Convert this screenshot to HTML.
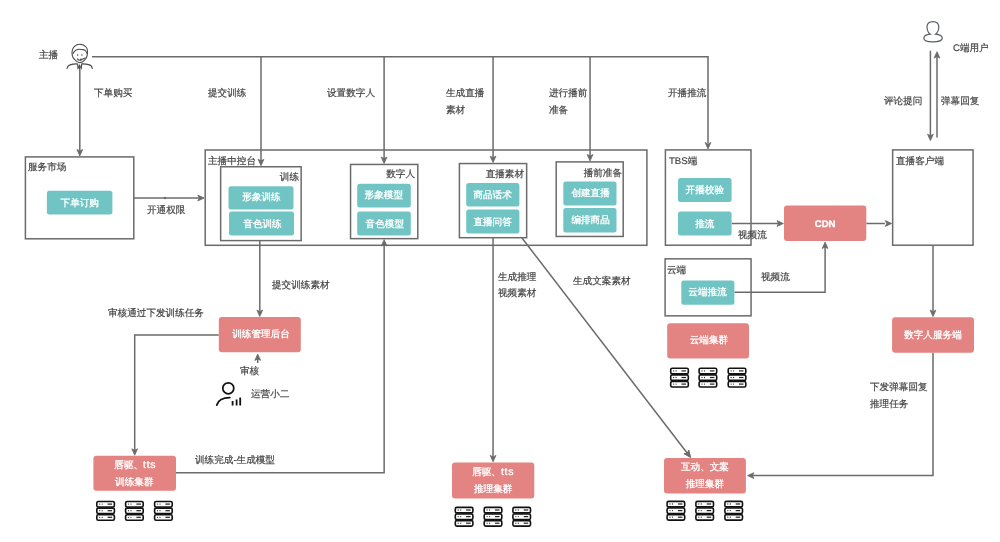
<!DOCTYPE html>
<html><head><meta charset="utf-8">
<style>
html,body{margin:0;padding:0;background:#fff;}
body{width:1000px;height:542px;position:relative;overflow:hidden;font-family:"Liberation Sans",sans-serif;}
svg{position:absolute;left:0;top:0;}
.t,.w{position:absolute;font-size:9.6px;line-height:10px;white-space:nowrap;text-rendering:geometricPrecision;}
.t{color:#444;-webkit-text-stroke:0.2px #444;will-change:transform;}
.w{color:#fff;-webkit-text-stroke:0.3px #fff;will-change:transform;}
.b{font-weight:bold;}
</style></head><body>
<svg width="1000" height="542" viewBox="0 0 1000 542">
<rect x="25.4" y="156.9" width="108.40" height="81.90" fill="#fff" stroke="#6b6b6b" stroke-width="1.5"/>
<rect x="205.2" y="150" width="441.70" height="95.30" fill="#fff" stroke="#6b6b6b" stroke-width="1.5"/>
<rect x="220.65" y="166.75" width="80.50" height="73.85" fill="#fff" stroke="#6b6b6b" stroke-width="1.5"/>
<rect x="350.55" y="164.45" width="67.25" height="74.20" fill="#fff" stroke="#6b6b6b" stroke-width="1.5"/>
<rect x="459.4" y="163.55" width="67.25" height="74.15" fill="#fff" stroke="#6b6b6b" stroke-width="1.5"/>
<rect x="556.2" y="161.9" width="67.00" height="74.55" fill="#fff" stroke="#6b6b6b" stroke-width="1.5"/>
<rect x="665.4" y="149.9" width="85.60" height="95.30" fill="#fff" stroke="#6b6b6b" stroke-width="1.5"/>
<rect x="892.65" y="149.9" width="80.40" height="95.30" fill="#fff" stroke="#6b6b6b" stroke-width="1.5"/>
<rect x="665.1" y="258.85" width="85.95" height="57.00" fill="#fff" stroke="#6b6b6b" stroke-width="1.5"/>
<path d="M92,56.7 H708 V143" fill="none" stroke="#6b6b6b" stroke-width="1.5"/>
<path d="M708,148.9 L705.1,142.5 L708,144.0 L710.9,142.5 Z" fill="#6b6b6b" stroke="#6b6b6b" stroke-width="0.8" stroke-linejoin="round"/>
<path d="M261,56.7 V161.75" fill="none" stroke="#6b6b6b" stroke-width="1.5"/>
<path d="M261,165.75 L258.1,159.35 L261,160.85 L263.9,159.35 Z" fill="#6b6b6b" stroke="#6b6b6b" stroke-width="0.8" stroke-linejoin="round"/>
<path d="M384.1,56.7 V159.45" fill="none" stroke="#6b6b6b" stroke-width="1.5"/>
<path d="M384.1,163.45 L381.20000000000005,157.04999999999998 L384.1,158.54999999999998 L387.0,157.04999999999998 Z" fill="#6b6b6b" stroke="#6b6b6b" stroke-width="0.8" stroke-linejoin="round"/>
<path d="M493.05,56.7 V158.55" fill="none" stroke="#6b6b6b" stroke-width="1.5"/>
<path d="M493.05,162.55 L490.15000000000003,156.15 L493.05,157.65 L495.95,156.15 Z" fill="#6b6b6b" stroke="#6b6b6b" stroke-width="0.8" stroke-linejoin="round"/>
<path d="M590.05,56.7 V156.9" fill="none" stroke="#6b6b6b" stroke-width="1.5"/>
<path d="M590.05,160.9 L587.15,154.5 L590.05,156.0 L592.9499999999999,154.5 Z" fill="#6b6b6b" stroke="#6b6b6b" stroke-width="0.8" stroke-linejoin="round"/>
<path d="M79.8,69 V151" fill="none" stroke="#6b6b6b" stroke-width="1.5"/>
<path d="M79.8,155.9 L76.89999999999999,149.5 L79.8,151.0 L82.7,149.5 Z" fill="#6b6b6b" stroke="#6b6b6b" stroke-width="0.8" stroke-linejoin="round"/>
<path d="M133.8,198 H199" fill="none" stroke="#6b6b6b" stroke-width="1.5"/>
<path d="M204.2,198 L197.79999999999998,195.1 L199.29999999999998,198 L197.79999999999998,200.9 Z" fill="#6b6b6b" stroke="#6b6b6b" stroke-width="0.8" stroke-linejoin="round"/>
<path d="M259.8,240.6 V311" fill="none" stroke="#6b6b6b" stroke-width="1.5"/>
<path d="M259.8,316.5 L256.90000000000003,310.1 L259.8,311.6 L262.7,310.1 Z" fill="#6b6b6b" stroke="#6b6b6b" stroke-width="0.8" stroke-linejoin="round"/>
<path d="M218.8,335 H134.7 V450" fill="none" stroke="#6b6b6b" stroke-width="1.5"/>
<path d="M134.7,455.2 L131.79999999999998,448.8 L134.7,450.3 L137.6,448.8 Z" fill="#6b6b6b" stroke="#6b6b6b" stroke-width="0.8" stroke-linejoin="round"/>
<path d="M257.7,363 V358" fill="none" stroke="#6b6b6b" stroke-width="1.5"/>
<path d="M257.7,354.0 L254.79999999999998,360.4 L257.7,358.9 L260.59999999999997,360.4 Z" fill="#6b6b6b" stroke="#6b6b6b" stroke-width="0.8" stroke-linejoin="round"/>
<path d="M176,472.8 H384.15 V244" fill="none" stroke="#6b6b6b" stroke-width="1.5"/>
<path d="M384.15,239.65 L381.25,246.05 L384.15,244.55 L387.04999999999995,246.05 Z" fill="#6b6b6b" stroke="#6b6b6b" stroke-width="0.8" stroke-linejoin="round"/>
<path d="M493.05,237.7 V457" fill="none" stroke="#6b6b6b" stroke-width="1.5"/>
<path d="M493.05,461.8 L490.15000000000003,455.40000000000003 L493.05,456.90000000000003 L495.95,455.40000000000003 Z" fill="#6b6b6b" stroke="#6b6b6b" stroke-width="0.8" stroke-linejoin="round"/>
<path d="M522,238 L687.5,453.5" fill="none" stroke="#6b6b6b" stroke-width="1.5"/>
<path d="M731.6,223.5 H779" fill="none" stroke="#6b6b6b" stroke-width="1.5"/>
<path d="M783.4,223.5 L777.0,220.6 L778.5,223.5 L777.0,226.4 Z" fill="#6b6b6b" stroke="#6b6b6b" stroke-width="0.8" stroke-linejoin="round"/>
<path d="M866.3,223.5 H885" fill="none" stroke="#6b6b6b" stroke-width="1.5"/>
<path d="M891.65,223.5 L885.25,220.6 L886.75,223.5 L885.25,226.4 Z" fill="#6b6b6b" stroke="#6b6b6b" stroke-width="0.8" stroke-linejoin="round"/>
<path d="M734.4,292.3 H825.1 V246" fill="none" stroke="#6b6b6b" stroke-width="1.5"/>
<path d="M825.1,242.1 L822.2,248.5 L825.1,247.0 L828.0,248.5 Z" fill="#6b6b6b" stroke="#6b6b6b" stroke-width="0.8" stroke-linejoin="round"/>
<path d="M933,245.2 V311" fill="none" stroke="#6b6b6b" stroke-width="1.5"/>
<path d="M933,316.5 L930.1,310.1 L933,311.6 L935.9,310.1 Z" fill="#6b6b6b" stroke="#6b6b6b" stroke-width="0.8" stroke-linejoin="round"/>
<path d="M933,352.7 V475.6 H751" fill="none" stroke="#6b6b6b" stroke-width="1.5"/>
<path d="M747.5,475.6 L753.9,472.70000000000005 L752.4,475.6 L753.9,478.5 Z" fill="#6b6b6b" stroke="#6b6b6b" stroke-width="0.8" stroke-linejoin="round"/>
<path d="M930.4,50.7 V136" fill="none" stroke="#6b6b6b" stroke-width="1.5"/>
<path d="M930.4,140.6 L927.5,134.2 L930.4,135.7 L933.3,134.2 Z" fill="#6b6b6b" stroke="#6b6b6b" stroke-width="0.8" stroke-linejoin="round"/>
<path d="M937,137.4 V56" fill="none" stroke="#6b6b6b" stroke-width="1.5"/>
<path d="M937,51.7 L934.1,58.1 L937,56.6 L939.9,58.1 Z" fill="#6b6b6b" stroke="#6b6b6b" stroke-width="0.8" stroke-linejoin="round"/>
<path d="M690.70,457.50 L688.81,450.12 L687.35,453.14 L684.06,453.78 Z" fill="#6b6b6b" stroke="#6b6b6b" stroke-width="1"/>
<rect x="46.9" y="190.7" width="65.50" height="23.90" rx="2.5" fill="#70c5c4"/>
<rect x="228.5" y="186.3" width="65.00" height="23.10" rx="2.5" fill="#70c5c4"/>
<rect x="229" y="211.5" width="65.00" height="23.90" rx="2.5" fill="#70c5c4"/>
<rect x="357.2" y="183.7" width="53.60" height="23.70" rx="2.5" fill="#70c5c4"/>
<rect x="357.2" y="211.5" width="53.60" height="23.90" rx="2.5" fill="#70c5c4"/>
<rect x="466.2" y="183" width="53.20" height="23.60" rx="2.5" fill="#70c5c4"/>
<rect x="466.2" y="209.4" width="53.20" height="24.00" rx="2.5" fill="#70c5c4"/>
<rect x="563.3" y="181.6" width="53.20" height="23.80" rx="2.5" fill="#70c5c4"/>
<rect x="563.3" y="208" width="53.20" height="24.40" rx="2.5" fill="#70c5c4"/>
<rect x="678" y="178" width="53.60" height="24.00" rx="2.5" fill="#70c5c4"/>
<rect x="678" y="211.5" width="53.60" height="23.90" rx="2.5" fill="#70c5c4"/>
<rect x="681.3" y="280.4" width="53.10" height="24.40" rx="2.5" fill="#70c5c4"/>
<rect x="784" y="205.6" width="82.30" height="35.50" rx="3" fill="#e48482"/>
<rect x="218.8" y="317" width="82.00" height="35.20" rx="3" fill="#e48482"/>
<rect x="93.4" y="455.8" width="82.60" height="35.00" rx="3" fill="#e48482"/>
<rect x="452" y="462.4" width="82.30" height="36.00" rx="3" fill="#e48482"/>
<rect x="667.2" y="323.3" width="81.80" height="35.10" rx="3" fill="#e48482"/>
<rect x="892.1" y="317.3" width="81.90" height="35.40" rx="3" fill="#e48482"/>
<rect x="664" y="458" width="81.90" height="35.40" rx="3" fill="#e48482"/>
<rect x="96.8" y="501.5" width="17.6" height="5.499999999999999" rx="1.5" fill="#fff" stroke="#111" stroke-width="1.6"/>
<circle cx="99.69999999999999" cy="504.1" r="0.65" fill="#333"/><circle cx="102.19999999999999" cy="504.1" r="0.65" fill="#333"/>
<path d="M107.6,504.1 H112.1" stroke="#222" stroke-width="1.2"/>
<rect x="96.8" y="508.1" width="17.6" height="5.499999999999999" rx="1.5" fill="#fff" stroke="#111" stroke-width="1.6"/>
<circle cx="99.69999999999999" cy="510.70000000000005" r="0.65" fill="#333"/><circle cx="102.19999999999999" cy="510.70000000000005" r="0.65" fill="#333"/>
<path d="M107.6,510.70000000000005 H112.1" stroke="#222" stroke-width="1.2"/>
<rect x="96.8" y="514.7" width="17.6" height="5.499999999999999" rx="1.5" fill="#fff" stroke="#111" stroke-width="1.6"/>
<circle cx="99.69999999999999" cy="517.3" r="0.65" fill="#333"/><circle cx="102.19999999999999" cy="517.3" r="0.65" fill="#333"/>
<path d="M107.6,517.3 H112.1" stroke="#222" stroke-width="1.2"/>
<rect x="125.60000000000001" y="501.5" width="17.6" height="5.499999999999999" rx="1.5" fill="#fff" stroke="#111" stroke-width="1.6"/>
<circle cx="128.5" cy="504.1" r="0.65" fill="#333"/><circle cx="131.0" cy="504.1" r="0.65" fill="#333"/>
<path d="M136.4,504.1 H140.9" stroke="#222" stroke-width="1.2"/>
<rect x="125.60000000000001" y="508.1" width="17.6" height="5.499999999999999" rx="1.5" fill="#fff" stroke="#111" stroke-width="1.6"/>
<circle cx="128.5" cy="510.70000000000005" r="0.65" fill="#333"/><circle cx="131.0" cy="510.70000000000005" r="0.65" fill="#333"/>
<path d="M136.4,510.70000000000005 H140.9" stroke="#222" stroke-width="1.2"/>
<rect x="125.60000000000001" y="514.7" width="17.6" height="5.499999999999999" rx="1.5" fill="#fff" stroke="#111" stroke-width="1.6"/>
<circle cx="128.5" cy="517.3" r="0.65" fill="#333"/><circle cx="131.0" cy="517.3" r="0.65" fill="#333"/>
<path d="M136.4,517.3 H140.9" stroke="#222" stroke-width="1.2"/>
<rect x="154.6" y="501.5" width="17.6" height="5.499999999999999" rx="1.5" fill="#fff" stroke="#111" stroke-width="1.6"/>
<circle cx="157.5" cy="504.1" r="0.65" fill="#333"/><circle cx="160.0" cy="504.1" r="0.65" fill="#333"/>
<path d="M165.4,504.1 H169.9" stroke="#222" stroke-width="1.2"/>
<rect x="154.6" y="508.1" width="17.6" height="5.499999999999999" rx="1.5" fill="#fff" stroke="#111" stroke-width="1.6"/>
<circle cx="157.5" cy="510.70000000000005" r="0.65" fill="#333"/><circle cx="160.0" cy="510.70000000000005" r="0.65" fill="#333"/>
<path d="M165.4,510.70000000000005 H169.9" stroke="#222" stroke-width="1.2"/>
<rect x="154.6" y="514.7" width="17.6" height="5.499999999999999" rx="1.5" fill="#fff" stroke="#111" stroke-width="1.6"/>
<circle cx="157.5" cy="517.3" r="0.65" fill="#333"/><circle cx="160.0" cy="517.3" r="0.65" fill="#333"/>
<path d="M165.4,517.3 H169.9" stroke="#222" stroke-width="1.2"/>
<rect x="455.3" y="507.4" width="17.6" height="5.499999999999999" rx="1.5" fill="#fff" stroke="#111" stroke-width="1.6"/>
<circle cx="458.20000000000005" cy="510.0" r="0.65" fill="#333"/><circle cx="460.70000000000005" cy="510.0" r="0.65" fill="#333"/>
<path d="M466.1,510.0 H470.6" stroke="#222" stroke-width="1.2"/>
<rect x="455.3" y="514.0" width="17.6" height="5.499999999999999" rx="1.5" fill="#fff" stroke="#111" stroke-width="1.6"/>
<circle cx="458.20000000000005" cy="516.5999999999999" r="0.65" fill="#333"/><circle cx="460.70000000000005" cy="516.5999999999999" r="0.65" fill="#333"/>
<path d="M466.1,516.5999999999999 H470.6" stroke="#222" stroke-width="1.2"/>
<rect x="455.3" y="520.6" width="17.6" height="5.499999999999999" rx="1.5" fill="#fff" stroke="#111" stroke-width="1.6"/>
<circle cx="458.20000000000005" cy="523.1999999999999" r="0.65" fill="#333"/><circle cx="460.70000000000005" cy="523.1999999999999" r="0.65" fill="#333"/>
<path d="M466.1,523.1999999999999 H470.6" stroke="#222" stroke-width="1.2"/>
<rect x="484.2" y="507.4" width="17.6" height="5.499999999999999" rx="1.5" fill="#fff" stroke="#111" stroke-width="1.6"/>
<circle cx="487.1" cy="510.0" r="0.65" fill="#333"/><circle cx="489.6" cy="510.0" r="0.65" fill="#333"/>
<path d="M495.0,510.0 H499.5" stroke="#222" stroke-width="1.2"/>
<rect x="484.2" y="514.0" width="17.6" height="5.499999999999999" rx="1.5" fill="#fff" stroke="#111" stroke-width="1.6"/>
<circle cx="487.1" cy="516.5999999999999" r="0.65" fill="#333"/><circle cx="489.6" cy="516.5999999999999" r="0.65" fill="#333"/>
<path d="M495.0,516.5999999999999 H499.5" stroke="#222" stroke-width="1.2"/>
<rect x="484.2" y="520.6" width="17.6" height="5.499999999999999" rx="1.5" fill="#fff" stroke="#111" stroke-width="1.6"/>
<circle cx="487.1" cy="523.1999999999999" r="0.65" fill="#333"/><circle cx="489.6" cy="523.1999999999999" r="0.65" fill="#333"/>
<path d="M495.0,523.1999999999999 H499.5" stroke="#222" stroke-width="1.2"/>
<rect x="512.9000000000001" y="507.4" width="17.6" height="5.499999999999999" rx="1.5" fill="#fff" stroke="#111" stroke-width="1.6"/>
<circle cx="515.8000000000001" cy="510.0" r="0.65" fill="#333"/><circle cx="518.3000000000001" cy="510.0" r="0.65" fill="#333"/>
<path d="M523.7,510.0 H528.2" stroke="#222" stroke-width="1.2"/>
<rect x="512.9000000000001" y="514.0" width="17.6" height="5.499999999999999" rx="1.5" fill="#fff" stroke="#111" stroke-width="1.6"/>
<circle cx="515.8000000000001" cy="516.5999999999999" r="0.65" fill="#333"/><circle cx="518.3000000000001" cy="516.5999999999999" r="0.65" fill="#333"/>
<path d="M523.7,516.5999999999999 H528.2" stroke="#222" stroke-width="1.2"/>
<rect x="512.9000000000001" y="520.6" width="17.6" height="5.499999999999999" rx="1.5" fill="#fff" stroke="#111" stroke-width="1.6"/>
<circle cx="515.8000000000001" cy="523.1999999999999" r="0.65" fill="#333"/><circle cx="518.3000000000001" cy="523.1999999999999" r="0.65" fill="#333"/>
<path d="M523.7,523.1999999999999 H528.2" stroke="#222" stroke-width="1.2"/>
<rect x="670.7" y="368.3" width="17.6" height="5.499999999999999" rx="1.5" fill="#fff" stroke="#111" stroke-width="1.6"/>
<circle cx="673.6" cy="370.90000000000003" r="0.65" fill="#333"/><circle cx="676.1" cy="370.90000000000003" r="0.65" fill="#333"/>
<path d="M681.5,370.90000000000003 H686" stroke="#222" stroke-width="1.2"/>
<rect x="670.7" y="374.90000000000003" width="17.6" height="5.499999999999999" rx="1.5" fill="#fff" stroke="#111" stroke-width="1.6"/>
<circle cx="673.6" cy="377.50000000000006" r="0.65" fill="#333"/><circle cx="676.1" cy="377.50000000000006" r="0.65" fill="#333"/>
<path d="M681.5,377.50000000000006 H686" stroke="#222" stroke-width="1.2"/>
<rect x="670.7" y="381.5" width="17.6" height="5.499999999999999" rx="1.5" fill="#fff" stroke="#111" stroke-width="1.6"/>
<circle cx="673.6" cy="384.1" r="0.65" fill="#333"/><circle cx="676.1" cy="384.1" r="0.65" fill="#333"/>
<path d="M681.5,384.1 H686" stroke="#222" stroke-width="1.2"/>
<rect x="699.1" y="368.3" width="17.6" height="5.499999999999999" rx="1.5" fill="#fff" stroke="#111" stroke-width="1.6"/>
<circle cx="702.0" cy="370.90000000000003" r="0.65" fill="#333"/><circle cx="704.5" cy="370.90000000000003" r="0.65" fill="#333"/>
<path d="M709.9,370.90000000000003 H714.4" stroke="#222" stroke-width="1.2"/>
<rect x="699.1" y="374.90000000000003" width="17.6" height="5.499999999999999" rx="1.5" fill="#fff" stroke="#111" stroke-width="1.6"/>
<circle cx="702.0" cy="377.50000000000006" r="0.65" fill="#333"/><circle cx="704.5" cy="377.50000000000006" r="0.65" fill="#333"/>
<path d="M709.9,377.50000000000006 H714.4" stroke="#222" stroke-width="1.2"/>
<rect x="699.1" y="381.5" width="17.6" height="5.499999999999999" rx="1.5" fill="#fff" stroke="#111" stroke-width="1.6"/>
<circle cx="702.0" cy="384.1" r="0.65" fill="#333"/><circle cx="704.5" cy="384.1" r="0.65" fill="#333"/>
<path d="M709.9,384.1 H714.4" stroke="#222" stroke-width="1.2"/>
<rect x="728.2" y="368.3" width="17.6" height="5.499999999999999" rx="1.5" fill="#fff" stroke="#111" stroke-width="1.6"/>
<circle cx="731.1" cy="370.90000000000003" r="0.65" fill="#333"/><circle cx="733.6" cy="370.90000000000003" r="0.65" fill="#333"/>
<path d="M739.0,370.90000000000003 H743.5" stroke="#222" stroke-width="1.2"/>
<rect x="728.2" y="374.90000000000003" width="17.6" height="5.499999999999999" rx="1.5" fill="#fff" stroke="#111" stroke-width="1.6"/>
<circle cx="731.1" cy="377.50000000000006" r="0.65" fill="#333"/><circle cx="733.6" cy="377.50000000000006" r="0.65" fill="#333"/>
<path d="M739.0,377.50000000000006 H743.5" stroke="#222" stroke-width="1.2"/>
<rect x="728.2" y="381.5" width="17.6" height="5.499999999999999" rx="1.5" fill="#fff" stroke="#111" stroke-width="1.6"/>
<circle cx="731.1" cy="384.1" r="0.65" fill="#333"/><circle cx="733.6" cy="384.1" r="0.65" fill="#333"/>
<path d="M739.0,384.1 H743.5" stroke="#222" stroke-width="1.2"/>
<rect x="667.1" y="501.4" width="17.6" height="5.499999999999999" rx="1.5" fill="#fff" stroke="#111" stroke-width="1.6"/>
<circle cx="670.0" cy="504.0" r="0.65" fill="#333"/><circle cx="672.5" cy="504.0" r="0.65" fill="#333"/>
<path d="M677.9,504.0 H682.4" stroke="#222" stroke-width="1.2"/>
<rect x="667.1" y="508.0" width="17.6" height="5.499999999999999" rx="1.5" fill="#fff" stroke="#111" stroke-width="1.6"/>
<circle cx="670.0" cy="510.6" r="0.65" fill="#333"/><circle cx="672.5" cy="510.6" r="0.65" fill="#333"/>
<path d="M677.9,510.6 H682.4" stroke="#222" stroke-width="1.2"/>
<rect x="667.1" y="514.6" width="17.6" height="5.499999999999999" rx="1.5" fill="#fff" stroke="#111" stroke-width="1.6"/>
<circle cx="670.0" cy="517.1999999999999" r="0.65" fill="#333"/><circle cx="672.5" cy="517.1999999999999" r="0.65" fill="#333"/>
<path d="M677.9,517.1999999999999 H682.4" stroke="#222" stroke-width="1.2"/>
<rect x="695.9000000000001" y="501.4" width="17.6" height="5.499999999999999" rx="1.5" fill="#fff" stroke="#111" stroke-width="1.6"/>
<circle cx="698.8000000000001" cy="504.0" r="0.65" fill="#333"/><circle cx="701.3000000000001" cy="504.0" r="0.65" fill="#333"/>
<path d="M706.7,504.0 H711.2" stroke="#222" stroke-width="1.2"/>
<rect x="695.9000000000001" y="508.0" width="17.6" height="5.499999999999999" rx="1.5" fill="#fff" stroke="#111" stroke-width="1.6"/>
<circle cx="698.8000000000001" cy="510.6" r="0.65" fill="#333"/><circle cx="701.3000000000001" cy="510.6" r="0.65" fill="#333"/>
<path d="M706.7,510.6 H711.2" stroke="#222" stroke-width="1.2"/>
<rect x="695.9000000000001" y="514.6" width="17.6" height="5.499999999999999" rx="1.5" fill="#fff" stroke="#111" stroke-width="1.6"/>
<circle cx="698.8000000000001" cy="517.1999999999999" r="0.65" fill="#333"/><circle cx="701.3000000000001" cy="517.1999999999999" r="0.65" fill="#333"/>
<path d="M706.7,517.1999999999999 H711.2" stroke="#222" stroke-width="1.2"/>
<rect x="724.9000000000001" y="501.4" width="17.6" height="5.499999999999999" rx="1.5" fill="#fff" stroke="#111" stroke-width="1.6"/>
<circle cx="727.8000000000001" cy="504.0" r="0.65" fill="#333"/><circle cx="730.3000000000001" cy="504.0" r="0.65" fill="#333"/>
<path d="M735.7,504.0 H740.2" stroke="#222" stroke-width="1.2"/>
<rect x="724.9000000000001" y="508.0" width="17.6" height="5.499999999999999" rx="1.5" fill="#fff" stroke="#111" stroke-width="1.6"/>
<circle cx="727.8000000000001" cy="510.6" r="0.65" fill="#333"/><circle cx="730.3000000000001" cy="510.6" r="0.65" fill="#333"/>
<path d="M735.7,510.6 H740.2" stroke="#222" stroke-width="1.2"/>
<rect x="724.9000000000001" y="514.6" width="17.6" height="5.499999999999999" rx="1.5" fill="#fff" stroke="#111" stroke-width="1.6"/>
<circle cx="727.8000000000001" cy="517.1999999999999" r="0.65" fill="#333"/><circle cx="730.3000000000001" cy="517.1999999999999" r="0.65" fill="#333"/>
<path d="M735.7,517.1999999999999 H740.2" stroke="#222" stroke-width="1.2"/>
<circle cx="165" cy="198" r="1.2" fill="#6b6b6b"/>
<g fill="none" stroke="#4a4a4a" stroke-width="1.1" stroke-linecap="round" stroke-linejoin="round">
<path d="M75,59.9 C73.5,58.5 72.3,57 72.3,55.3 C71.6,53 72,48.5 74.5,46.3 C76.5,44.6 78.5,44.3 79.8,44.3 C82,44.3 84.5,45.2 86,47 C87.8,49.2 87.8,52.5 87.2,55.3 C86.8,57.5 86,59 84.6,60.2 C83.2,61.8 81.5,62.6 79.6,62.6 C77.8,62.6 76.2,61.2 75,59.9"/>
<path d="M73,53.6 C73.8,52 74.5,51.2 75.3,50.6 C76.8,49.6 78,49.3 79.3,49.3 C80.8,49.3 82,49.6 83.2,49.6 C84.5,49.8 85.5,50.5 85.9,51.3 C86.3,52 86.7,52.6 86.9,53.3"/>
<path d="M77.3,58.9 C78,59.8 79,60.2 80,60.2 L85.2,57.9"/>
<path d="M67,68.5 C67.5,66.5 68.5,65.3 70,64.9 C72,64.3 74.5,64 76.8,63.9 M82.3,63.9 C84.6,64 87.2,64.3 89.4,64.9 C91,65.3 92,66.5 92.2,68.5"/>
<path d="M77.6,63.9 L78,68.8 M81.7,63.9 L81.3,68.8 M79.6,65 L78.9,67 L79.6,68.5 L80.3,67 Z"/>
</g>
<circle cx="77.6" cy="54.9" r="0.75" fill="#4a4a4a"/><circle cx="81.9" cy="54.9" r="0.75" fill="#4a4a4a"/>
<circle cx="81" cy="59.6" r="1" fill="#4a4a4a"/>
<path d="M930.3,34.2 C928,32.5 927,30 927,27 C927,23.5 929.5,21.6 932.9,21.6 C936.3,21.6 938.8,23.5 938.8,27 C938.8,30 937.8,32.5 935.5,34.2 C939.5,34.6 942.3,36.2 942.3,38.3 C942.3,40.4 938.2,41.9 933,41.9 C927.8,41.9 923.8,40.4 923.8,38.3 C923.8,36.2 926.5,34.6 930.3,34.2 Z" fill="none" stroke="#5c6070" stroke-width="1.2"/>
<g fill="none" stroke="#111" stroke-linecap="round">
<circle cx="228.3" cy="388.3" r="5.5" stroke-width="1.7"/>
<path d="M216.8,405 C218,400.5 223,397.5 229.8,397.6" stroke-width="1.9"/>
</g>
<g stroke="#111" stroke-width="1.8"><path d="M232.6,401 V405.5 M236.6,399.4 V405.5 M240.2,397.4 V405.5"/></g>
</svg>
<div id="W0" class="w" style="left:47.35px;width:65.50px;top:198.60px;text-align:center;">下单订购</div>
<div id="W1" class="w" style="left:228.50px;width:65.00px;top:193.40px;text-align:center;">形象训练</div>
<div id="W2" class="w" style="left:229.50px;width:65.00px;top:219.80px;text-align:center;">音色训练</div>
<div id="W3" class="w" style="left:357.20px;width:53.60px;top:191.20px;text-align:center;">形象模型</div>
<div id="W4" class="w" style="left:357.70px;width:53.60px;top:219.80px;text-align:center;">音色模型</div>
<div id="W5" class="w" style="left:466.10px;width:53.20px;top:191.20px;text-align:center;">商品话术</div>
<div id="W6" class="w" style="left:466.10px;width:53.20px;top:217.60px;text-align:center;">直播问答</div>
<div id="W7" class="w" style="left:563.50px;width:53.20px;top:189.00px;text-align:center;">创建直播</div>
<div id="W8" class="w" style="left:563.50px;width:53.20px;top:215.80px;text-align:center;">编排商品</div>
<div id="W9" class="w" style="left:677.90px;width:53.60px;top:186.00px;text-align:center;">开播校验</div>
<div id="W10" class="w" style="left:677.90px;width:53.60px;top:219.80px;text-align:center;">推流</div>
<div id="W11" class="w" style="left:681.35px;width:53.10px;top:288.40px;text-align:center;">云端推流</div>
<div id="W12" class="w b" style="left:784.45px;width:82.30px;top:219.90px;text-align:center;">CDN</div>
<div id="W13" class="w" style="left:219.70px;width:82.00px;top:330.40px;text-align:center;">训练管理后台</div>
<div id="W14" class="w" style="left:93.50px;width:82.60px;top:460.20px;text-align:center;">唇驱、<span style="letter-spacing:0.7px;font-size:10.5px">tts</span></div>
<div id="W15" class="w" style="left:93.00px;width:82.60px;top:478.20px;text-align:center;">训练集群</div>
<div id="W16" class="w" style="left:452.45px;width:82.30px;top:466.60px;text-align:center;">唇驱、<span style="letter-spacing:0.7px;font-size:10.5px">tts</span></div>
<div id="W17" class="w" style="left:452.45px;width:82.30px;top:484.60px;text-align:center;">推理集群</div>
<div id="W18" class="w" style="left:667.50px;width:81.80px;top:336.40px;text-align:center;">云端集群</div>
<div id="W19" class="w" style="left:892.25px;width:81.90px;top:331.00px;text-align:center;">数字人服务端</div>
<div id="W20" class="w" style="left:663.85px;width:81.90px;top:463.30px;text-align:center;">互动、文案</div>
<div id="W21" class="w" style="left:663.85px;width:81.90px;top:479.80px;text-align:center;">推理集群</div>
<div id="L0" class="t" style="left:38.50px;top:50.90px;">主播</div>
<div id="L1" class="t" style="left:93.75px;top:88.65px;">下单购买</div>
<div id="L2" class="t" style="left:207.50px;top:88.65px;">提交训练</div>
<div id="L3" class="t" style="left:327.00px;top:88.90px;">设置数字人</div>
<div id="L4" class="t" style="left:445.50px;top:88.90px;">生成直播</div>
<div id="L5" class="t" style="left:445.50px;top:105.90px;">素材</div>
<div id="L6" class="t" style="left:548.50px;top:88.90px;">进行播前</div>
<div id="L7" class="t" style="left:548.50px;top:105.90px;">准备</div>
<div id="L8" class="t" style="left:668.00px;top:88.90px;">开播推流</div>
<div id="L9" class="t" style="left:884.00px;top:96.90px;">评论提问</div>
<div id="L10" class="t" style="left:941.00px;top:96.90px;">弹幕回复</div>
<div id="L11" class="t" style="left:952.50px;top:43.90px;">C端用户</div>
<div id="L12" class="t" style="left:28.00px;top:163.40px;">服务市场</div>
<div id="L13" class="t" style="left:147.00px;top:205.90px;">开通权限</div>
<div id="L14" class="t" style="left:208.00px;top:156.90px;">主播中控台</div>
<div id="L15" class="t" style="left:668.50px;top:156.90px;">TBS端</div>
<div id="L16" class="t" style="left:737.50px;top:230.90px;">视频流</div>
<div id="L17" class="t" style="left:895.50px;top:156.90px;">直播客户端</div>
<div id="L18" class="t" style="left:272.00px;top:281.40px;">提交训练素材</div>
<div id="L19" class="t" style="left:107.50px;top:308.90px;">审核通过下发训练任务</div>
<div id="L20" class="t" style="left:240.00px;top:366.90px;">审核</div>
<div id="L21" class="t" style="left:251.00px;top:389.90px;">运营小二</div>
<div id="L22" class="t" style="left:195.00px;top:455.90px;">训练完成-生成模型</div>
<div id="L23" class="t" style="left:497.50px;top:272.90px;">生成推理</div>
<div id="L24" class="t" style="left:497.50px;top:288.90px;">视频素材</div>
<div id="L25" class="t" style="left:573.00px;top:277.40px;">生成文案素材</div>
<div id="L26" class="t" style="left:667.00px;top:265.90px;">云端</div>
<div id="L27" class="t" style="left:761.00px;top:273.40px;">视频流</div>
<div id="L28" class="t" style="left:870.00px;top:382.90px;">下发弹幕回复</div>
<div id="L29" class="t" style="left:870.00px;top:399.90px;">推理任务</div>
<div id="R30" class="t" style="left:239.00px;width:60px;text-align:right;top:172.90px;">训练</div>
<div id="R31" class="t" style="left:355.00px;width:60px;text-align:right;top:170.40px;">数字人</div>
<div id="R32" class="t" style="left:464.00px;width:60px;text-align:right;top:169.90px;">直播素材</div>
<div id="R33" class="t" style="left:562.00px;width:60px;text-align:right;top:168.90px;">播前准备</div>
</body></html>
